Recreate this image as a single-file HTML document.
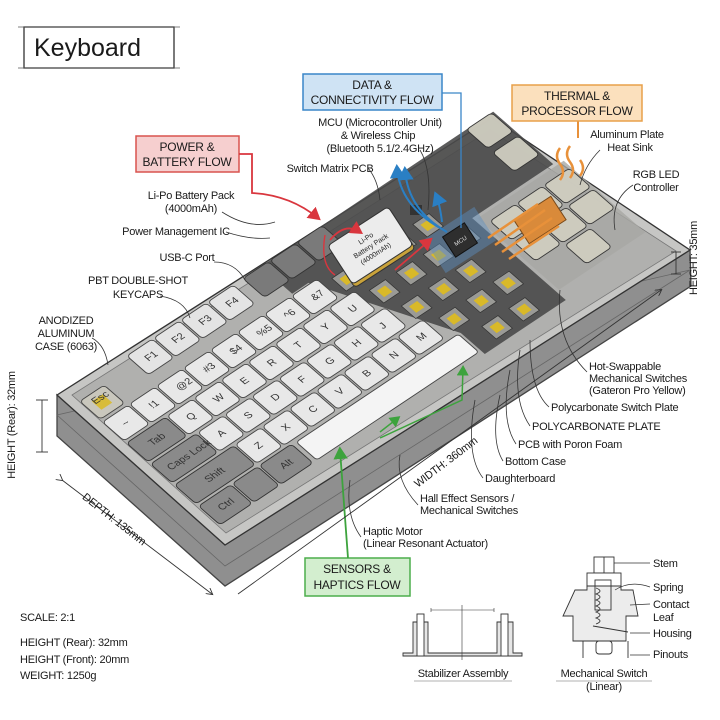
<!DOCTYPE html>
<html><head><meta charset="utf-8"><style>
html,body{margin:0;padding:0;background:#fff;}
svg{display:block;}
text{font-family:"Liberation Sans Narrow","Liberation Sans",sans-serif;fill:#1a1a1a;}
.l{font-size:11px;letter-spacing:-0.25px;}
.k{font-size:.32px;fill:#333;font-family:"Liberation Sans",sans-serif;}
.ns{vector-effect:non-scaling-stroke;}
</style></head><body>
<svg width="720" height="720" viewBox="0 0 720 720" xmlns="http://www.w3.org/2000/svg">
<defs>
<marker id="ab" markerWidth="8" markerHeight="8" refX="6" refY="4" orient="auto"><path d="M0,0 L7,4 L0,8" fill="none" stroke="#333" stroke-width="1"/></marker>
<marker id="abl" markerWidth="8" markerHeight="8" refX="5" refY="4" orient="auto"><path d="M0,0 L7,4 L0,8 z" fill="#2a7fc4"/></marker>
<marker id="are" markerWidth="8" markerHeight="8" refX="5" refY="4" orient="auto"><path d="M0,0 L7,4 L0,8 z" fill="#d9363e"/></marker>
<marker id="agr" markerWidth="8" markerHeight="8" refX="5" refY="4" orient="auto"><path d="M0,0 L7,4 L0,8 z" fill="#3da33d"/></marker>
</defs>

<!-- Title -->
<rect x="24" y="27" width="150" height="41" fill="#fff" stroke="#333" stroke-width="1.3"/>
<line x1="18" y1="27" x2="180" y2="27" stroke="#555" stroke-width=".7"/>
<line x1="18" y1="68" x2="180" y2="68" stroke="#555" stroke-width=".7"/>
<text x="34" y="56" style="font-family:'Liberation Sans',sans-serif;font-size:25px">Keyboard</text>

<!-- case side -->
<polygon points="57,395 225,545 690,250 691,286 225,586 57,436" fill="#8f8f8f" stroke="#444" stroke-width="1.3"/>
<polygon points="57,415 225,566 690,270" fill="none" stroke="#666" stroke-width=".8"/>
<!-- case top -->
<polygon points="57,395 492,118 690,250 225,545" fill="#c6c6c4" stroke="#333" stroke-width="1.3"/>
<polygon points="72,395 490,130 676,251 226,533" fill="#b0b0ae" stroke="#777" stroke-width=".8"/>

<g transform="matrix(27,-18,24,21,102,402)">
 <polygon points="6.6,-0.8 15.2,-0.8 15.2,1.7 12.2,1.7 12.2,5.6 9.2,5.6 9.2,4.6 7.2,0.5 6.6,0.5" fill="#4a4a4a" opacity=".9"/>
 <polygon points="12.3,1.8 15.5,1.8 15.5,5.2 12.3,5.2" fill="#a8a8a4" opacity=".8"/>
 <!-- Esc -->
 <rect x="-.45" y="-.42" width=".9" height=".86" rx=".12" fill="#c9c7bd" stroke="#444" stroke-width=".9" class="ns"/>
 <rect x="-.2" y="-.2" width=".4" height=".4" fill="#d8bc3a"/>
 <text class="k" x="-.2" y="-.05">Esc</text>
 <g fill="#e4e4e4" stroke="#444" stroke-width=".9">
  <rect class="ns" x="1.63" y="-.8" width=".94" height=".9" rx=".12"/>
  <rect class="ns" x="2.63" y="-.8" width=".94" height=".9" rx=".12"/>
  <rect class="ns" x="3.63" y="-.8" width=".94" height=".9" rx=".12"/>
  <rect class="ns" x="4.63" y="-.8" width=".94" height=".9" rx=".12"/>
 </g>
 <g fill="#7a7a7a" stroke="#333" stroke-width=".9">
  <rect class="ns" x="5.93" y="-.8" width=".94" height=".9" rx=".12"/>
  <rect class="ns" x="6.93" y="-.8" width=".94" height=".9" rx=".12"/>
  <rect class="ns" x="7.93" y="-.8" width=".94" height=".9" rx=".12"/>
 </g>
 <text class="k" x="1.95" y="-.25">F1</text><text class="k" x="2.95" y="-.25">F2</text><text class="k" x="3.95" y="-.25">F3</text><text class="k" x="4.95" y="-.25">F4</text>
 <g fill="#e8e8e8" stroke="#444" stroke-width=".9">
  <rect class="ns" x="-.47" y=".55" width=".94" height=".9" rx=".12"/>
  <rect class="ns" x=".53" y=".55" width=".94" height=".9" rx=".12"/>
  <rect class="ns" x="1.53" y=".55" width=".94" height=".9" rx=".12"/>
  <rect class="ns" x="2.53" y=".55" width=".94" height=".9" rx=".12"/>
  <rect class="ns" x="3.53" y=".55" width=".94" height=".9" rx=".12"/>
  <rect class="ns" x="4.53" y=".55" width=".94" height=".9" rx=".12"/>
  <rect class="ns" x="5.53" y=".55" width=".94" height=".9" rx=".12"/>
  <rect class="ns" x="6.53" y=".55" width=".94" height=".9" rx=".12"/>
 </g>
 <text class="k" x="-.1" y="1.1">~</text><text class="k" x=".9" y="1.1">!1</text><text class="k" x="1.9" y="1.1">@2</text><text class="k" x="2.9" y="1.1">#3</text><text class="k" x="3.9" y="1.1">$4</text><text class="k" x="4.9" y="1.1">%5</text><text class="k" x="5.9" y="1.1">^6</text><text class="k" x="6.9" y="1.1">&amp;7</text>
 <rect class="ns" x="-.47" y="1.55" width="1.44" height=".9" rx=".12" fill="#8a8a8a" stroke="#333" stroke-width=".9"/>
 <g fill="#e8e8e8" stroke="#444" stroke-width=".9">
  <rect class="ns" x="1.03" y="1.55" width=".94" height=".9" rx=".12"/>
  <rect class="ns" x="2.03" y="1.55" width=".94" height=".9" rx=".12"/>
  <rect class="ns" x="3.03" y="1.55" width=".94" height=".9" rx=".12"/>
  <rect class="ns" x="4.03" y="1.55" width=".94" height=".9" rx=".12"/>
  <rect class="ns" x="5.03" y="1.55" width=".94" height=".9" rx=".12"/>
  <rect class="ns" x="6.03" y="1.55" width=".94" height=".9" rx=".12"/>
  <rect class="ns" x="7.03" y="1.55" width=".94" height=".9" rx=".12"/>
 </g>
 <text class="k" x="0" y="2.1">Tab</text><text class="k" x="1.4" y="2.1">Q</text><text class="k" x="2.4" y="2.1">W</text><text class="k" x="3.4" y="2.1">E</text><text class="k" x="4.4" y="2.1">R</text><text class="k" x="5.4" y="2.1">T</text><text class="k" x="6.4" y="2.1">Y</text><text class="k" x="7.4" y="2.1">U</text>
 <rect class="ns" x="-.47" y="2.55" width="1.69" height=".9" rx=".12" fill="#8a8a8a" stroke="#333" stroke-width=".9"/>
 <g fill="#e8e8e8" stroke="#444" stroke-width=".9">
  <rect class="ns" x="1.28" y="2.55" width=".94" height=".9" rx=".12"/>
  <rect class="ns" x="2.28" y="2.55" width=".94" height=".9" rx=".12"/>
  <rect class="ns" x="3.28" y="2.55" width=".94" height=".9" rx=".12"/>
  <rect class="ns" x="4.28" y="2.55" width=".94" height=".9" rx=".12"/>
  <rect class="ns" x="5.28" y="2.55" width=".94" height=".9" rx=".12"/>
  <rect class="ns" x="6.28" y="2.55" width=".94" height=".9" rx=".12"/>
  <rect class="ns" x="7.28" y="2.55" width=".94" height=".9" rx=".12"/>
 </g>
 <text class="k" x="-.2" y="3.1">Caps Lock</text><text class="k" x="1.65" y="3.1">A</text><text class="k" x="2.65" y="3.1">S</text><text class="k" x="3.65" y="3.1">D</text><text class="k" x="4.65" y="3.1">F</text><text class="k" x="5.65" y="3.1">G</text><text class="k" x="6.65" y="3.1">H</text><text class="k" x="7.65" y="3.1">J</text>
 <rect class="ns" x="-.47" y="3.55" width="2.19" height=".9" rx=".12" fill="#8a8a8a" stroke="#333" stroke-width=".9"/>
 <g fill="#e8e8e8" stroke="#444" stroke-width=".9">
  <rect class="ns" x="1.78" y="3.55" width=".94" height=".9" rx=".12"/>
  <rect class="ns" x="2.78" y="3.55" width=".94" height=".9" rx=".12"/>
  <rect class="ns" x="3.78" y="3.55" width=".94" height=".9" rx=".12"/>
  <rect class="ns" x="4.78" y="3.55" width=".94" height=".9" rx=".12"/>
  <rect class="ns" x="5.78" y="3.55" width=".94" height=".9" rx=".12"/>
  <rect class="ns" x="6.78" y="3.55" width=".94" height=".9" rx=".12"/>
  <rect class="ns" x="7.78" y="3.55" width=".94" height=".9" rx=".12"/>
 </g>
 <text class="k" x=".3" y="4.1">Shift</text><text class="k" x="2.15" y="4.1">Z</text><text class="k" x="3.15" y="4.1">X</text><text class="k" x="4.15" y="4.1">C</text><text class="k" x="5.15" y="4.1">V</text><text class="k" x="6.15" y="4.1">B</text><text class="k" x="7.15" y="4.1">N</text><text class="k" x="8.15" y="4.1">M</text>
 <g fill="#8a8a8a" stroke="#333" stroke-width=".9">
  <rect class="ns" x="-.47" y="4.55" width="1.19" height=".9" rx=".12"/>
  <rect class="ns" x=".78" y="4.55" width=".94" height=".9" rx=".12"/>
  <rect class="ns" x="1.78" y="4.55" width="1.19" height=".9" rx=".12"/>
 </g>
 <text class="k" x="-.1" y="5.1">Ctrl</text><text class="k" x="2.2" y="5.1">Alt</text>
 <rect class="ns" x="3.12" y="4.58" width="6" height=".86" rx=".1" fill="#f4f4f4" stroke="#444" stroke-width=".9"/>
 <g fill="#9a9a96" stroke="#333" stroke-width=".7">
  <rect class="ns" x="7.8" y=".8" width=".6" height=".6"/><rect class="ns" x="8.8" y=".8" width=".6" height=".6"/><rect class="ns" x="9.8" y=".8" width=".6" height=".6"/><rect class="ns" x="10.8" y=".8" width=".6" height=".6"/>
  <rect class="ns" x="8.3" y="1.8" width=".6" height=".6"/><rect class="ns" x="9.3" y="1.8" width=".6" height=".6"/><rect class="ns" x="10.3" y="1.8" width=".6" height=".6"/><rect class="ns" x="11.3" y="1.8" width=".6" height=".6"/>
  <rect class="ns" x="8.6" y="2.8" width=".6" height=".6"/><rect class="ns" x="9.6" y="2.8" width=".6" height=".6"/><rect class="ns" x="10.6" y="2.8" width=".6" height=".6"/>
  <rect class="ns" x="9.1" y="3.8" width=".6" height=".6"/><rect class="ns" x="10.1" y="3.8" width=".6" height=".6"/><rect class="ns" x="11.1" y="3.8" width=".6" height=".6"/>
  <rect class="ns" x="9.8" y="4.8" width=".6" height=".6"/><rect class="ns" x="10.8" y="4.8" width=".6" height=".6"/>
 </g>
 <g fill="#d9b928">
  <rect x="7.95" y=".95" width=".3" height=".3"/><rect x="8.95" y=".95" width=".3" height=".3"/><rect x="9.95" y=".95" width=".3" height=".3"/><rect x="10.95" y=".95" width=".3" height=".3"/>
  <rect x="8.45" y="1.95" width=".3" height=".3"/><rect x="9.45" y="1.95" width=".3" height=".3"/><rect x="10.45" y="1.95" width=".3" height=".3"/><rect x="11.45" y="1.95" width=".3" height=".3"/>
  <rect x="8.75" y="2.95" width=".3" height=".3"/><rect x="9.75" y="2.95" width=".3" height=".3"/><rect x="10.75" y="2.95" width=".3" height=".3"/>
  <rect x="9.25" y="3.95" width=".3" height=".3"/><rect x="10.25" y="3.95" width=".3" height=".3"/><rect x="11.25" y="3.95" width=".3" height=".3"/>
  <rect x="9.95" y="4.95" width=".3" height=".3"/><rect x="10.95" y="4.95" width=".3" height=".3"/>
 </g>
 <g fill="#cfcdc0" stroke="#333" stroke-width=".9" opacity=".95">
  <rect class="ns" x="12.5" y="2.1" width=".94" height=".9" rx=".12"/><rect class="ns" x="13.5" y="2.1" width=".94" height=".9" rx=".12"/><rect class="ns" x="14.5" y="2.1" width=".94" height=".9" rx=".12"/>
  <rect class="ns" x="12.5" y="3.1" width=".94" height=".9" rx=".12"/><rect class="ns" x="13.5" y="3.1" width=".94" height=".9" rx=".12"/><rect class="ns" x="14.5" y="3.1" width=".94" height=".9" rx=".12"/>
  <rect class="ns" x="13.5" y="4.1" width=".94" height=".9" rx=".12"/>
  <rect class="ns" x="14.2" y="-.8" width=".94" height=".9" rx=".12"/><rect class="ns" x="14.2" y=".3" width=".94" height=".9" rx=".12"/>
 </g>
</g>

<g transform="translate(372,248) rotate(-33)">
 <rect x="-36" y="-22" width="72" height="46" rx="4" fill="#c9a23a" stroke="#333"/>
 <rect x="-36" y="-26" width="72" height="46" rx="4" fill="#ececec" stroke="#333"/>
 <text x="0" y="-9" text-anchor="middle" style="font-size:7px">Li-Po</text>
 <text x="0" y="0" text-anchor="middle" style="font-size:7px">Battery Pack</text>
 <text x="0" y="9" text-anchor="middle" style="font-size:7px">(4000mAh)</text>
</g>
<g transform="translate(460,240) rotate(-33)">
 <rect x="-30" y="-20" width="60" height="40" fill="#5a8fc0" opacity=".45"/>
 <rect x="-13" y="-12" width="26" height="24" fill="#2e2e2e" stroke="#111"/>
 <text x="0" y="3" text-anchor="middle" style="font-size:6px;fill:#ddd">MCU</text>
</g>
<rect x="410" y="205" width="12" height="10" fill="#333"/>
<g transform="translate(540,220) rotate(-33)"><rect x="-22" y="-14" width="44" height="28" fill="#d98a3a" stroke="#7a4a1a"/></g>
<g stroke="#e8913a" stroke-width="2.5" fill="none">
 <path d="M495,245 L545,210"/><path d="M502,252 L552,218"/><path d="M509,259 L559,226"/><path d="M488,238 L538,204"/>
 <path d="M560,180 q6,-8 0,-16 q-6,-8 0,-16"/><path d="M570,178 q6,-8 0,-16 q-6,-8 0,-16"/><path d="M580,176 q6,-8 0,-16"/>
</g>
<path d="M578,121 L578,138" stroke="#e8913a" stroke-width="2"/>

<rect x="303" y="74" width="139" height="36" fill="#cfe3f4" stroke="#3a86c8" stroke-width="1.5"/>
<text x="372" y="89" text-anchor="middle" class="l" style="font-size:12px">DATA &amp;</text>
<text x="372" y="104" text-anchor="middle" class="l" style="font-size:12px">CONNECTIVITY FLOW</text>
<path d="M442,93 L461,93 L461,228" stroke="#3a86c8" stroke-width="1.3" fill="none"/>
<rect x="512" y="85" width="130" height="36" fill="#fbe0bd" stroke="#e8a04a" stroke-width="1.5"/>
<text x="577" y="100" text-anchor="middle" class="l" style="font-size:12px">THERMAL &amp;</text>
<text x="577" y="115" text-anchor="middle" class="l" style="font-size:12px">PROCESSOR FLOW</text>
<rect x="136" y="136" width="103" height="36" fill="#f6cfcf" stroke="#d9534f" stroke-width="1.5"/>
<text x="187" y="151" text-anchor="middle" class="l" style="font-size:12px">POWER &amp;</text>
<text x="187" y="166" text-anchor="middle" class="l" style="font-size:12px">BATTERY FLOW</text>
<path d="M239,154 L252,154 L252,193 Q290,195 318,218" stroke="#d9363e" stroke-width="1.8" fill="none" marker-end="url(#are)"/>
<path d="M330,240 Q345,222 360,232" stroke="#d9363e" stroke-width="1.8" fill="none" marker-end="url(#are)"/>
<path d="M395,270 L430,240" stroke="#d9363e" stroke-width="1.8" fill="none" marker-end="url(#are)"/>
<path d="M325,235 Q320,265 335,275" stroke="#d9363e" stroke-width="1.4" fill="none"/>
<rect x="305" y="558" width="105" height="38" fill="#d3eecf" stroke="#4cae4c" stroke-width="1.5"/>
<text x="357" y="573" text-anchor="middle" class="l" style="font-size:12px">SENSORS &amp;</text>
<text x="357" y="589" text-anchor="middle" class="l" style="font-size:12px">HAPTICS FLOW</text>
<path d="M348,558 L340,450" stroke="#3da33d" stroke-width="1.8" fill="none" marker-end="url(#agr)"/>
<path d="M380,438 L462,400 L463,368" stroke="#3da33d" stroke-width="1.5" fill="none" marker-end="url(#agr)"/>
<path d="M380,432 L398,418" stroke="#3da33d" stroke-width="1.5" fill="none" marker-end="url(#agr)"/>
<path d="M440,228 Q400,205 397,168" stroke="#2a7fc4" stroke-width="2" fill="none" marker-end="url(#abl)"/>
<path d="M447,232 Q408,210 405,170" stroke="#2a7fc4" stroke-width="2" fill="none" marker-end="url(#abl)"/>
<path d="M442,222 Q440,205 436,195" stroke="#2a7fc4" stroke-width="2" fill="none" marker-end="url(#abl)"/>

<g class="l">
<text x="380" y="126" text-anchor="middle">MCU (Microcontroller Unit)</text>
<text x="378" y="139" text-anchor="middle">&amp; Wireless Chip</text>
<text x="380" y="152" text-anchor="middle">(Bluetooth 5.1/2.4GHz)</text>
<text x="330" y="172" text-anchor="middle">Switch Matrix PCB</text>
<text x="627" y="138" text-anchor="middle">Aluminum Plate</text>
<text x="630" y="151" text-anchor="middle">Heat Sink</text>
<text x="656" y="178" text-anchor="middle">RGB LED</text>
<text x="656" y="191" text-anchor="middle">Controller</text>
<text x="191" y="199" text-anchor="middle">Li-Po Battery Pack</text>
<text x="191" y="212" text-anchor="middle">(4000mAh)</text>
<text x="176" y="235" text-anchor="middle">Power Management IC</text>
<text x="187" y="261" text-anchor="middle">USB-C Port</text>
<text x="138" y="284" text-anchor="middle">PBT DOUBLE-SHOT</text>
<text x="138" y="298" text-anchor="middle">KEYCAPS</text>
<text x="66" y="324" text-anchor="middle">ANODIZED</text>
<text x="66" y="337" text-anchor="middle">ALUMINUM</text>
<text x="66" y="350" text-anchor="middle">CASE (6063)</text>
<text x="589" y="370">Hot-Swappable</text>
<text x="589" y="382">Mechanical Switches</text>
<text x="589" y="394">(Gateron Pro Yellow)</text>
<text x="551" y="411">Polycarbonate Switch Plate</text>
<text x="532" y="430">POLYCARBONATE PLATE</text>
<text x="518" y="448">PCB with Poron Foam</text>
<text x="505" y="465">Bottom Case</text>
<text x="485" y="482">Daughterboard</text>
<text x="420" y="502">Hall Effect Sensors /</text>
<text x="420" y="514">Mechanical Switches</text>
<text x="363" y="535">Haptic Motor</text>
<text x="363" y="547">(Linear Resonant Actuator)</text>
</g>
<g stroke="#333" stroke-width=".8" fill="none">
<path d="M420,150 Q432,170 428,210"/>
<path d="M368,168 Q378,180 380,200"/>
<path d="M600,150 Q585,165 580,185"/>
<path d="M633,185 Q610,200 615,230"/>
<path d="M222,212 Q250,230 275,222"/>
<path d="M226,232 Q250,240 270,238"/>
<path d="M214,262 Q235,262 245,280"/>
<path d="M160,296 Q185,300 190,318"/>
<path d="M92,338 Q105,345 108,365"/>
<path d="M587,372 Q555,340 560,290"/>
<path d="M549,407 Q530,390 530,340"/>
<path d="M530,426 Q512,400 520,350"/>
<path d="M516,444 Q500,420 510,370"/>
<path d="M503,461 Q490,440 500,395"/>
<path d="M483,478 Q465,455 475,400"/>
<path d="M418,505 Q395,480 400,455"/>
<path d="M361,537 Q345,515 350,480"/>
</g>

<g stroke="#333" stroke-width=".9" fill="none">
<path d="M62,480 L212,594" marker-end="url(#ab)" marker-start="url(#ab)"/>
<path d="M238,594 L661,290" marker-end="url(#ab)"/>
<path d="M42,400 L42,452"/><path d="M36,400 L48,400"/><path d="M36,452 L48,452"/>
<path d="M676,252 L676,274"/><path d="M671,252 L681,252"/><path d="M671,274 L681,274"/>
</g>
<text class="l" transform="translate(112,522) rotate(38)" text-anchor="middle">DEPTH: 135mm</text>
<text class="l" transform="translate(448,465) rotate(-37)" text-anchor="middle">WIDTH: 360mm</text>
<text class="l" transform="translate(15,425) rotate(-90)" text-anchor="middle">HEIGHT (Rear): 32mm</text>
<text class="l" transform="translate(697,258) rotate(-90)" text-anchor="middle">HEIGHT: 35mm</text>

<g>
<text x="20" y="621" class="l">SCALE: 2:1</text>
<text x="20" y="646" class="l">HEIGHT (Rear): 32mm</text>
<text x="20" y="663" class="l">HEIGHT (Front): 20mm</text>
<text x="20" y="679" class="l">WEIGHT: 1250g</text>
</g>

<g stroke="#333" stroke-width=".9" fill="none">
<path d="M403,653 L403,656 L522,656 L522,653 L513,653 L513,622 L497,622 L497,653 L428,653 L428,622 L413,622 L413,653 Z" fill="#e6e6e6"/>
<rect x="417" y="614" width="7" height="42" fill="#fff"/>
<rect x="501" y="614" width="7" height="42" fill="#fff"/>
<path d="M431,608 L431,612 M462,605 L462,660 M494,608 L494,612 M431,610 L494,610" stroke-width=".6"/>
</g>
<text x="463" y="677" text-anchor="middle" class="l">Stabilizer Assembly</text>
<line x1="414" y1="681" x2="512" y2="681" stroke="#999" stroke-width=".7"/>
<g stroke="#333" stroke-width=".9" fill="none">
<rect x="594" y="557" width="20" height="16" fill="#fff"/>
<line x1="604" y1="557" x2="604" y2="573"/>
<rect x="587" y="573" width="34" height="13" fill="#fff"/>
<path d="M575,590 L587,590 L587,586 L621,586 L621,590 L633,590 L638,616 L626,616 L626,641 L573,641 L573,616 L563,616 Z" fill="#ececec"/>
<path d="M596,588 q8,3 0,6 q8,3 0,6 q8,3 0,6 q8,3 0,6 q8,3 0,6 q8,3 0,6"/>
<rect x="595" y="580" width="16" height="30" />
<path d="M593,626 L628,632"/>
<rect x="596" y="641" width="16" height="13" rx="3" fill="#fff"/>
<line x1="583" y1="641" x2="583" y2="658"/><line x1="628" y1="641" x2="628" y2="658"/>
<path d="M614,563 L650,563 M615,590 Q630,580 650,587 M630,605 L650,604 M630,633 L650,633 M630,655 L650,655" stroke-width=".7"/>
</g>
<g class="l">
<text x="653" y="567">Stem</text>
<text x="653" y="591">Spring</text>
<text x="653" y="608">Contact</text>
<text x="653" y="621">Leaf</text>
<text x="653" y="637">Housing</text>
<text x="653" y="658">Pinouts</text>
<text x="604" y="677" text-anchor="middle">Mechanical Switch</text>
<text x="604" y="690" text-anchor="middle">(Linear)</text>
</g>
<line x1="556" y1="681" x2="652" y2="681" stroke="#999" stroke-width=".7"/>
</svg>
</body></html>
